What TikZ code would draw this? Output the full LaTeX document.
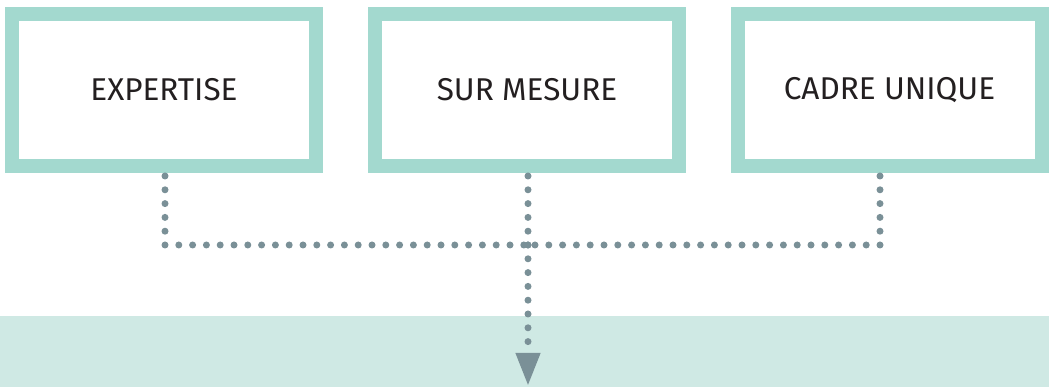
\documentclass[tikz,border=0pt]{standalone}
\usepackage{fontspec}
\setmainfont{Fira Sans}
\usepackage{xcolor}
\usepackage{tikz}
\usetikzlibrary{arrows.meta,positioning,calc}
\definecolor{tealbrd}{HTML}{A3D9CF}
\definecolor{tealband}{HTML}{CFE9E4}
\definecolor{dotgray}{HTML}{7A9097}
\definecolor{txtdark}{HTML}{231F20}
\tikzset{
  Pbox/.style={draw=tealbrd, line width=14pt, fill=white, align=center,
               font=\fontsize{31.5}{36}\selectfont, text=txtdark,
               minimum width=304pt, minimum height=152pt, inner sep=0pt},
  Band/.style={fill=tealband, draw=none, minimum width=1049pt,
               minimum height=71pt, inner sep=0pt, anchor=south west},
  Dline/.style={dotgray, line width=7pt, line cap=round,
                dash pattern=on 0pt off 13.8pt},
  Darr/.style={Dline, -{Triangle[width=23pt,length=33pt]}}
}
\begin{document}
\begin{tikzpicture}[x=1pt,y=1pt]
  \useasboundingbox (0,0) rectangle (1049,387);
  \node[Band] (band) at (0,0) {};

  \node[Pbox] (exp) at (164,297) {EXPERTISE};
  \node[Pbox] (sur) at (527,297) {SUR MESURE};
  \node[Pbox] (cadre) at (889.5,297) {CADRE UNIQUE};

  \coordinate (expb) at (165,211);
  \coordinate (surb) at (528,211);
  \coordinate (cadreb) at (880,211);
  \coordinate (jl) at (165,142);
  \coordinate (jm) at (528,142);
  \coordinate (jr) at (880,142);
  \coordinate (tip) at (528,1);

  \draw[Dline] (expb) -- (jl) -- (jm);
  \draw[Dline] (cadreb) -- (jr) -- (jm);
  \draw[Dline] (surb) -- (jm);
  \draw[Darr] (jm) -- (tip);
\end{tikzpicture}
\end{document}
